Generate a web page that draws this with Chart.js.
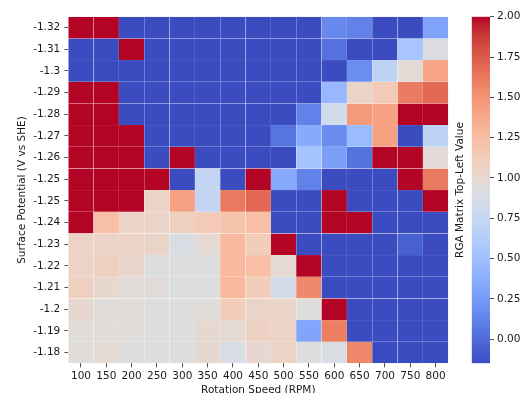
<!DOCTYPE html>
<html>
<head>
<meta charset="utf-8">
<script src="https://cdn.jsdelivr.net/npm/chart.js@4.4.1/dist/chart.umd.min.js"></script>
<style>
  html, body { margin: 0; padding: 0; background: #ffffff; overflow: hidden; width: 521px; height: 393px; }
  #wrap { position: relative; width: 521px; height: 393px; }
  canvas { position: absolute; top: 0; }
  #heat { left: 0; }
  #cbar { left: 450px; }
</style>
</head>
<body>
<div id="wrap">
  <canvas id="heat" width="460" height="393"></canvas>
  <canvas id="cbar" width="71" height="393"></canvas>
</div>
<script>
// Rotation speeds (columns) and surface potentials (rows, top to bottom)
const SPEEDS = ['100', '150', '200', '250', '300', '350', '400', '450', '500', '550', '600', '650', '700', '750', '800'];
const POTENTIALS = ['-1.32', '-1.31', '-1.3', '-1.29', '-1.28', '-1.27', '-1.26', '-1.25', '-1.25', '-1.24',
                    '-1.23', '-1.22', '-1.21', '-1.2', '-1.19', '-1.18'];

// RGA matrix top-left value, one row per potential, one entry per speed
const RGA_VALUES = [
  [ 2.00,  2.00, -0.15, -0.15, -0.15, -0.15, -0.15, -0.15, -0.15, -0.15,  0.15,  0.12, -0.15, -0.15,  0.30],
  [-0.15, -0.15,  2.00, -0.15, -0.15, -0.15, -0.15, -0.15, -0.15, -0.15,  0.03, -0.15, -0.15,  0.55,  0.90],
  [-0.15, -0.15, -0.15, -0.15, -0.15, -0.15, -0.15, -0.15, -0.15, -0.15, -0.15,  0.18,  0.69,  0.97,  1.40],
  [ 2.00,  2.00, -0.15, -0.15, -0.15, -0.15, -0.15, -0.15, -0.15, -0.15,  0.45,  1.04,  1.14,  1.61,  1.69],
  [ 2.00,  2.00, -0.15, -0.15, -0.15, -0.15, -0.15, -0.15, -0.15,  0.12,  0.82,  1.47,  1.42,  2.00,  2.00],
  [ 2.00,  2.00,  2.00, -0.15, -0.15, -0.15, -0.15, -0.15,  0.05,  0.35,  0.17,  0.47,  1.43, -0.15,  0.69],
  [ 2.00,  2.00,  2.00, -0.15,  2.00, -0.15, -0.15, -0.15, -0.15,  0.54,  0.28,  0.04,  2.00,  2.00,  0.96],
  [ 2.00,  2.00,  2.00,  2.00, -0.15,  0.73, -0.15,  2.00,  0.35,  0.12, -0.15, -0.15, -0.15,  2.00,  1.62],
  [ 2.00,  2.00,  2.00,  1.05,  1.43,  0.73,  1.62,  1.70, -0.15, -0.15,  2.00, -0.15, -0.15, -0.15,  2.00],
  [ 2.00,  1.23,  1.05,  1.05,  1.10,  1.14,  1.20,  1.23, -0.15, -0.15,  2.00,  2.00, -0.15, -0.15, -0.15],
  [ 1.05,  1.05,  1.06,  1.04,  0.88,  0.98,  1.28,  1.12,  2.00, -0.15, -0.15, -0.15, -0.15, -0.05, -0.15],
  [ 1.06,  1.10,  1.02,  0.92,  0.91,  0.92,  1.28,  1.23,  0.98,  2.00, -0.15, -0.15, -0.15, -0.15, -0.15],
  [ 1.09,  1.01,  0.95,  0.95,  0.92,  0.92,  1.28,  1.12,  0.84,  1.55, -0.15, -0.15, -0.15, -0.15, -0.15],
  [ 1.00,  0.94,  0.94,  0.92,  0.92,  0.94,  1.13,  1.04,  1.04,  0.93,  2.00, -0.15, -0.15, -0.15, -0.15],
  [ 0.94,  0.94,  0.94,  0.91,  0.91,  0.99,  0.98,  1.07,  1.06,  0.32,  1.60, -0.15, -0.15, -0.15, -0.15],
  [ 0.94,  0.98,  0.92,  0.92,  0.91,  0.99,  0.88,  1.00,  1.06,  0.93,  0.88,  1.56, -0.15, -0.15, -0.15]
];

// Colour scale limits and colourbar ticks
const VMIN = -0.15;
const VMAX = 2.0;
const CBAR_TICKS = [0, 0.25, 0.5, 0.75, 1.0, 1.25, 1.5, 1.75, 2.0];

// Cool-warm diverging colour map, 33 evenly spaced stops
const COOLWARM = [
  [59,76,192],[68,90,204],[77,104,215],[87,117,225],[98,130,234],[108,142,241],[119,154,247],[130,165,251],
  [141,176,254],[152,185,255],[163,194,255],[174,201,253],[184,208,249],[194,213,244],[204,217,238],[213,219,230],
  [221,221,221],[229,216,209],[236,211,197],[241,204,185],[245,196,173],[247,187,160],[247,177,148],[247,166,135],
  [244,154,123],[241,141,111],[236,127,99],[229,112,88],[222,96,77],[213,80,66],[203,62,56],[192,40,47],[180,4,38]
];

function coolwarm(t) {
  t = Math.min(1, Math.max(0, t));
  const x = t * (COOLWARM.length - 1);
  const i = Math.min(Math.floor(x), COOLWARM.length - 2);
  const f = x - i;
  const a = COOLWARM[i], b = COOLWARM[i + 1];
  const c = k => Math.round(a[k] + (b[k] - a[k]) * f);
  return `rgb(${c(0)},${c(1)},${c(2)})`;
}
const norm = v => (v - VMIN) / (VMAX - VMIN);

const TEXT = '#1a1a1a';
const TICK = '#262626';
Chart.defaults.font.family = "'DejaVu Sans', sans-serif";
Chart.defaults.font.size = 10.5;
Chart.defaults.color = TEXT;

// Heatmap: one dataset per potential row, each cell a floating bar spanning its row
const heatDatasets = POTENTIALS.map((p, r) => ({
  label: p,
  data: SPEEDS.map(() => [r, r + 1]),
  backgroundColor: RGA_VALUES[r].map(v => coolwarm(norm(v))),
  borderColor: '#ffffff',
  borderWidth: 0.3,
  borderSkipped: false,
  grouped: false,
  barPercentage: 1,
  categoryPercentage: 1
}));

new Chart(document.getElementById('heat'), {
  type: 'bar',
  data: { labels: SPEEDS, datasets: heatDatasets },
  options: {
    responsive: false,
    animation: false,
    events: [],
    layout: { padding: { top: 16.7, right: 11.7, left: 0, bottom: 0 } },
    plugins: { legend: { display: false }, tooltip: { enabled: false } },
    scales: {
      x: {
        type: 'category',
        offset: true,
        grid: { display: true, drawOnChartArea: false, offset: false, tickLength: 4, tickColor: TICK, tickWidth: 0.8 },
        border: { display: false },
        ticks: { padding: 3, maxRotation: 0, minRotation: 0, autoSkip: false, color: TEXT },
        title: { display: true, text: 'Rotation Speed (RPM)', color: TEXT, padding: { top: 0, bottom: -3.6 } },
        afterFit: s => { s.height = 29.7; }
      },
      y: {
        type: 'linear',
        min: 0,
        max: POTENTIALS.length,
        reverse: true,
        afterBuildTicks: s => { s.ticks = POTENTIALS.map((_, i) => ({ value: i + 0.5 })); },
        ticks: { autoSkip: false, padding: 4, color: TEXT, callback: (v, i) => POTENTIALS[i] },
        grid: { display: true, drawOnChartArea: false, tickLength: 4, tickColor: TICK, tickWidth: 0.8 },
        border: { display: false },
        title: { display: true, text: 'Surface Potential (V vs SHE)', color: TEXT, padding: { top: 16.4, bottom: 0 } },
        afterFit: s => { s.width = 68.3; }
      }
    }
  }
});

// Colourbar: a single floating bar filled with the colour map gradient
function cbarGradient(ctx) {
  const chart = ctx.chart;
  if (!chart.chartArea) return coolwarm(0.5);
  const y = chart.scales.y;
  const g = chart.ctx.createLinearGradient(0, y.getPixelForValue(VMIN), 0, y.getPixelForValue(VMAX));
  const n = 64;
  for (let i = 0; i <= n; i++) g.addColorStop(i / n, coolwarm(i / n));
  return g;
}

new Chart(document.getElementById('cbar'), {
  type: 'bar',
  data: {
    labels: [''],
    datasets: [{
      data: [[VMIN, VMAX]],
      backgroundColor: cbarGradient,
      borderWidth: 0,
      barPercentage: 1,
      categoryPercentage: 1,
      yAxisID: 'y'
    }]
  },
  options: {
    responsive: false,
    animation: false,
    events: [],
    layout: { padding: { top: 16.7, bottom: 29.7, left: 0, right: 0 } },
    plugins: { legend: { display: false }, tooltip: { enabled: false } },
    scales: {
      x: { display: false },
      yTitle: {
        type: 'linear',
        position: 'left',
        min: VMIN,
        max: VMAX,
        ticks: { display: false },
        grid: { display: false },
        border: { display: false },
        title: { display: true, text: 'RGA Matrix Top-Left Value', color: TEXT, padding: { top: 4.4, bottom: 0 } },
        afterFit: s => { s.width = 21.7; }
      },
      y: {
        type: 'linear',
        position: 'right',
        min: VMIN,
        max: VMAX,
        afterBuildTicks: s => { s.ticks = CBAR_TICKS.map(v => ({ value: v })); },
        ticks: { padding: 3, color: TEXT, callback: v => Number(v).toFixed(2) },
        grid: { display: true, drawOnChartArea: false, tickLength: 4, tickColor: TICK, tickWidth: 0.8 },
        border: { display: false },
        afterFit: s => { s.width = 31; }
      }
    }
  }
});
</script>
</body>
</html>
